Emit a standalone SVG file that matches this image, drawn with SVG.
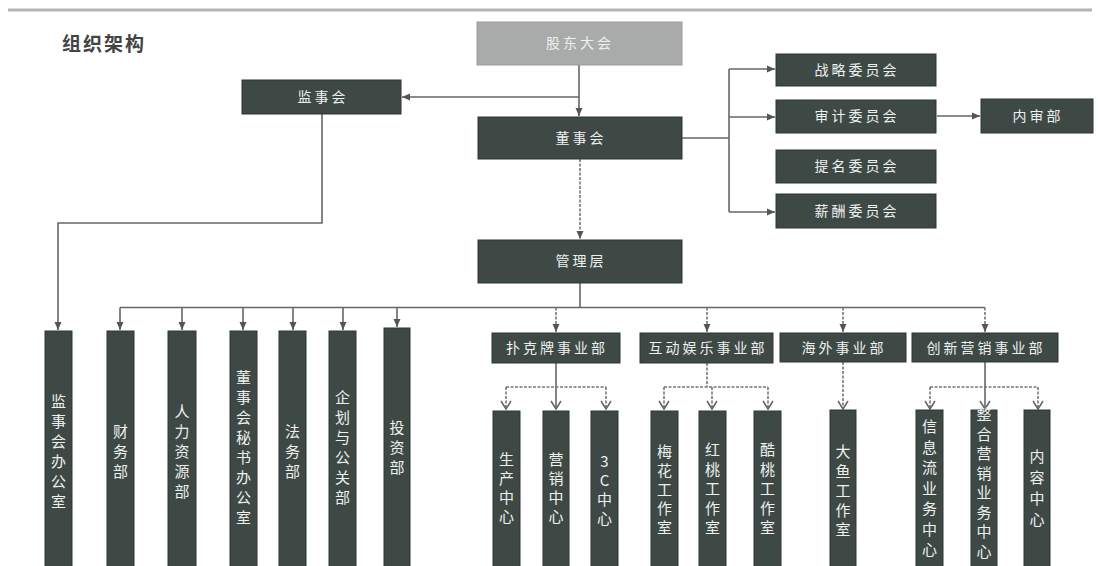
<svg xmlns="http://www.w3.org/2000/svg" width="1098" height="566" viewBox="0 0 1098 566">
<defs>
<style>
.bx{fill:#3e4946;stroke:#2e3634;stroke-width:1}
.gb{fill:#a9abaa;stroke:#9a9c9b;stroke-width:1}
.t{font-family:"Noto Sans CJK SC","Liberation Sans",sans-serif;font-size:14px;fill:#eef0ee;text-anchor:middle;letter-spacing:3px}
.v{font-family:"Noto Sans CJK SC","Liberation Sans",sans-serif;font-size:15px;fill:#eef0ee;text-anchor:middle}
.ln{fill:none;stroke:#666;stroke-width:1.6}
.dl{fill:none;stroke:#777;stroke-width:1.6;stroke-dasharray:3 1.5}
.a{marker-end:url(#fa)}
.o{marker-end:url(#oa)}
</style>
<marker id="fa" markerUnits="userSpaceOnUse" markerWidth="9" markerHeight="9" refX="8" refY="4" orient="auto"><path d="M0,0.5 L8,4 L0,7.5 z" fill="#555"/></marker>
<marker id="oa" markerUnits="userSpaceOnUse" markerWidth="12" markerHeight="12" refX="9" refY="6" orient="auto"><path d="M1,1 L9,6 L1,11" fill="none" stroke="#666" stroke-width="1.5"/></marker>
</defs>
<rect width="1098" height="566" fill="#ffffff"/>
<line x1="8" y1="10" x2="1092" y2="10" stroke="#b4b4b4" stroke-width="3"/>
<text x="62" y="51" font-family="'Noto Sans CJK SC',sans-serif" font-size="19" font-weight="bold" fill="#444" letter-spacing="2">组织架构</text>

<g id="connectors">
<path class="ln a" d="M579,65 V116"/>
<path class="ln a" d="M579,97 H402"/>
<path class="ln" d="M682,138 H729"/>
<path class="ln" d="M729,69 V212"/>
<path class="ln a" d="M729,69 H775"/>
<path class="ln a" d="M729,117 H775"/>
<path class="ln a" d="M729,212 H775"/>
<path class="ln a" d="M937,116 H980"/>
<path class="dl a" d="M580,159 V239"/>
<path class="ln" d="M580,283 V307.5"/>
<path class="ln a" d="M322,114 V223 H58 V330"/>
<path class="ln" d="M120,307.5 H985"/>
<path class="ln a" d="M120,307.5 V330"/>
<path class="ln a" d="M182,307.5 V330"/>
<path class="ln a" d="M243,307.5 V330"/>
<path class="ln a" d="M293,307.5 V330"/>
<path class="ln a" d="M343,307.5 V330"/>
<path class="ln a" d="M397,307.5 V327"/>
<path class="dl a" d="M556,307.5 V332"/>
<path class="dl a" d="M707,307.5 V332"/>
<path class="dl a" d="M843,307.5 V332"/>
<path class="dl a" d="M985,307.5 V332"/>
<path class="ln" d="M556,363 V387"/>
<path class="dl" d="M506,387 H606"/>
<path class="dl o" d="M506,387 V409"/>
<path class="ln o" d="M556,387 V409"/>
<path class="dl o" d="M606,387 V409"/>
<path class="dl" d="M707,363 V387"/>
<path class="dl" d="M664,387 H768"/>
<path class="dl o" d="M664,387 V409"/>
<path class="dl o" d="M712,387 V409"/>
<path class="dl o" d="M768,387 V409"/>
<path class="dl o" d="M843,362 V409"/>
<path class="ln" d="M985,362 V387"/>
<path class="dl" d="M930,387 H1038"/>
<path class="dl o" d="M930,387 V409"/>
<path class="ln o" d="M985,387 V409"/>
<path class="dl o" d="M1038,387 V409"/>
</g>

<g id="gudongdahui"><rect class="gb" x="477" y="22" width="205" height="43"/><text class="t" x="580" y="48">股东大会</text></g>
<g id="jianshihui"><rect class="bx" x="242" y="80" width="159" height="34"/><text class="t" x="323" y="102">监事会</text></g>
<g id="dongshihui"><rect class="bx" x="478" y="117" width="204" height="42"/><text class="t" x="581" y="143">董事会</text></g>
<g id="zhanlue"><rect class="bx" x="776" y="54" width="160" height="32"/><text class="t" x="857" y="75">战略委员会</text></g>
<g id="shenji"><rect class="bx" x="776" y="100" width="160" height="33"/><text class="t" x="857" y="121">审计委员会</text></g>
<g id="timing"><rect class="bx" x="776" y="150" width="160" height="33"/><text class="t" x="857" y="171">提名委员会</text></g>
<g id="xinchou"><rect class="bx" x="776" y="194" width="160" height="34"/><text class="t" x="857" y="216">薪酬委员会</text></g>
<g id="neishenbu"><rect class="bx" x="981" y="99" width="112" height="34"/><text class="t" x="1038" y="121">内审部</text></g>
<g id="guanliceng"><rect class="bx" x="478" y="240" width="204" height="43"/><text class="t" x="581" y="266">管理层</text></g>

<g id="jianshihui-office"><rect class="bx" x="45" y="331" width="27" height="240"/><text class="v" x="58.5" y="407"><tspan x="58.5">监</tspan><tspan x="58.5" dy="20">事</tspan><tspan x="58.5" dy="20">会</tspan><tspan x="58.5" dy="20">办</tspan><tspan x="58.5" dy="20">公</tspan><tspan x="58.5" dy="20">室</tspan></text></g>
<g id="caiwubu"><rect class="bx" x="107" y="331" width="27" height="240"/><text class="v" x="120.5" y="437"><tspan x="120.5">财</tspan><tspan x="120.5" dy="20">务</tspan><tspan x="120.5" dy="20">部</tspan></text></g>
<g id="renliziyuan"><rect class="bx" x="168" y="331" width="28" height="240"/><text class="v" x="182" y="417"><tspan x="182">人</tspan><tspan x="182" dy="20">力</tspan><tspan x="182" dy="20">资</tspan><tspan x="182" dy="20">源</tspan><tspan x="182" dy="20">部</tspan></text></g>
<g id="dongmiban"><rect class="bx" x="230" y="331" width="27" height="240"/><text class="v" x="243.5" y="383"><tspan x="243.5">董</tspan><tspan x="243.5" dy="20">事</tspan><tspan x="243.5" dy="20">会</tspan><tspan x="243.5" dy="20">秘</tspan><tspan x="243.5" dy="20">书</tspan><tspan x="243.5" dy="20">办</tspan><tspan x="243.5" dy="20">公</tspan><tspan x="243.5" dy="20">室</tspan></text></g>
<g id="fawubu"><rect class="bx" x="279" y="331" width="27" height="240"/><text class="v" x="292.5" y="437"><tspan x="292.5">法</tspan><tspan x="292.5" dy="20">务</tspan><tspan x="292.5" dy="20">部</tspan></text></g>
<g id="qihua"><rect class="bx" x="329" y="331" width="27" height="240"/><text class="v" x="342.5" y="403"><tspan x="342.5">企</tspan><tspan x="342.5" dy="20">划</tspan><tspan x="342.5" dy="20">与</tspan><tspan x="342.5" dy="20">公</tspan><tspan x="342.5" dy="20">关</tspan><tspan x="342.5" dy="20">部</tspan></text></g>
<g id="touzibu"><rect class="bx" x="384" y="328" width="26" height="243"/><text class="v" x="397" y="433"><tspan x="397">投</tspan><tspan x="397" dy="20">资</tspan><tspan x="397" dy="20">部</tspan></text></g>

<g id="pukepai"><rect class="bx" x="492" y="333" width="128" height="30"/><text class="t" x="557" y="353">扑克牌事业部</text></g>
<g id="hudong"><rect class="bx" x="640" y="333" width="133" height="30"/><text class="t" x="708" y="353">互动娱乐事业部</text></g>
<g id="haiwai"><rect class="bx" x="780" y="333" width="126" height="29"/><text class="t" x="844" y="353">海外事业部</text></g>
<g id="chuangxin"><rect class="bx" x="912" y="333" width="146" height="29"/><text class="t" x="986" y="353">创新营销事业部</text></g>

<g id="shengchan"><rect class="bx" x="493" y="411" width="27" height="160"/><text class="v" x="506.5" y="465"><tspan x="506.5">生</tspan><tspan x="506.5" dy="19">产</tspan><tspan x="506.5" dy="19">中</tspan><tspan x="506.5" dy="19">心</tspan></text></g>
<g id="yingxiao"><rect class="bx" x="543" y="411" width="26" height="160"/><text class="v" x="556" y="465"><tspan x="556">营</tspan><tspan x="556" dy="19">销</tspan><tspan x="556" dy="19">中</tspan><tspan x="556" dy="19">心</tspan></text></g>
<g id="sanc"><rect class="bx" x="591" y="411" width="27" height="160"/><text class="v" x="604.5" y="467"><tspan x="604.5">3</tspan><tspan x="604.5" dy="19">C</tspan><tspan x="604.5" dy="19">中</tspan><tspan x="604.5" dy="19">心</tspan></text></g>
<g id="meihua"><rect class="bx" x="651" y="411" width="27" height="160"/><text class="v" x="664.5" y="457"><tspan x="664.5">梅</tspan><tspan x="664.5" dy="19">花</tspan><tspan x="664.5" dy="19">工</tspan><tspan x="664.5" dy="19">作</tspan><tspan x="664.5" dy="19">室</tspan></text></g>
<g id="hongtao"><rect class="bx" x="699" y="411" width="27" height="160"/><text class="v" x="712.5" y="455"><tspan x="712.5">红</tspan><tspan x="712.5" dy="19.5">桃</tspan><tspan x="712.5" dy="19.5">工</tspan><tspan x="712.5" dy="19.5">作</tspan><tspan x="712.5" dy="19.5">室</tspan></text></g>
<g id="kutao"><rect class="bx" x="754" y="411" width="27" height="160"/><text class="v" x="767.5" y="455"><tspan x="767.5">酷</tspan><tspan x="767.5" dy="19.5">桃</tspan><tspan x="767.5" dy="19.5">工</tspan><tspan x="767.5" dy="19.5">作</tspan><tspan x="767.5" dy="19.5">室</tspan></text></g>
<g id="dayu"><rect class="bx" x="830" y="410" width="26" height="161"/><text class="v" x="843" y="457"><tspan x="843">大</tspan><tspan x="843" dy="19.5">鱼</tspan><tspan x="843" dy="19.5">工</tspan><tspan x="843" dy="19.5">作</tspan><tspan x="843" dy="19.5">室</tspan></text></g>
<g id="xinxiliu"><rect class="bx" x="916" y="410" width="27" height="161"/><text class="v" x="929.5" y="432"><tspan x="929.5">信</tspan><tspan x="929.5" dy="20.5">息</tspan><tspan x="929.5" dy="20.5">流</tspan><tspan x="929.5" dy="20.5">业</tspan><tspan x="929.5" dy="20.5">务</tspan><tspan x="929.5" dy="20.5">中</tspan><tspan x="929.5" dy="20.5">心</tspan></text></g>
<g id="zhenghe"><rect class="bx" x="971" y="410" width="26" height="161"/><text class="v" x="984" y="420"><tspan x="984">整</tspan><tspan x="984" dy="19.5">合</tspan><tspan x="984" dy="19.5">营</tspan><tspan x="984" dy="19.5">销</tspan><tspan x="984" dy="19.5">业</tspan><tspan x="984" dy="19.5">务</tspan><tspan x="984" dy="19.5">中</tspan><tspan x="984" dy="19.5">心</tspan></text></g>
<g id="neirong"><rect class="bx" x="1024" y="410" width="26" height="161"/><text class="v" x="1037" y="462"><tspan x="1037">内</tspan><tspan x="1037" dy="21">容</tspan><tspan x="1037" dy="21">中</tspan><tspan x="1037" dy="21">心</tspan></text></g>
</svg>
